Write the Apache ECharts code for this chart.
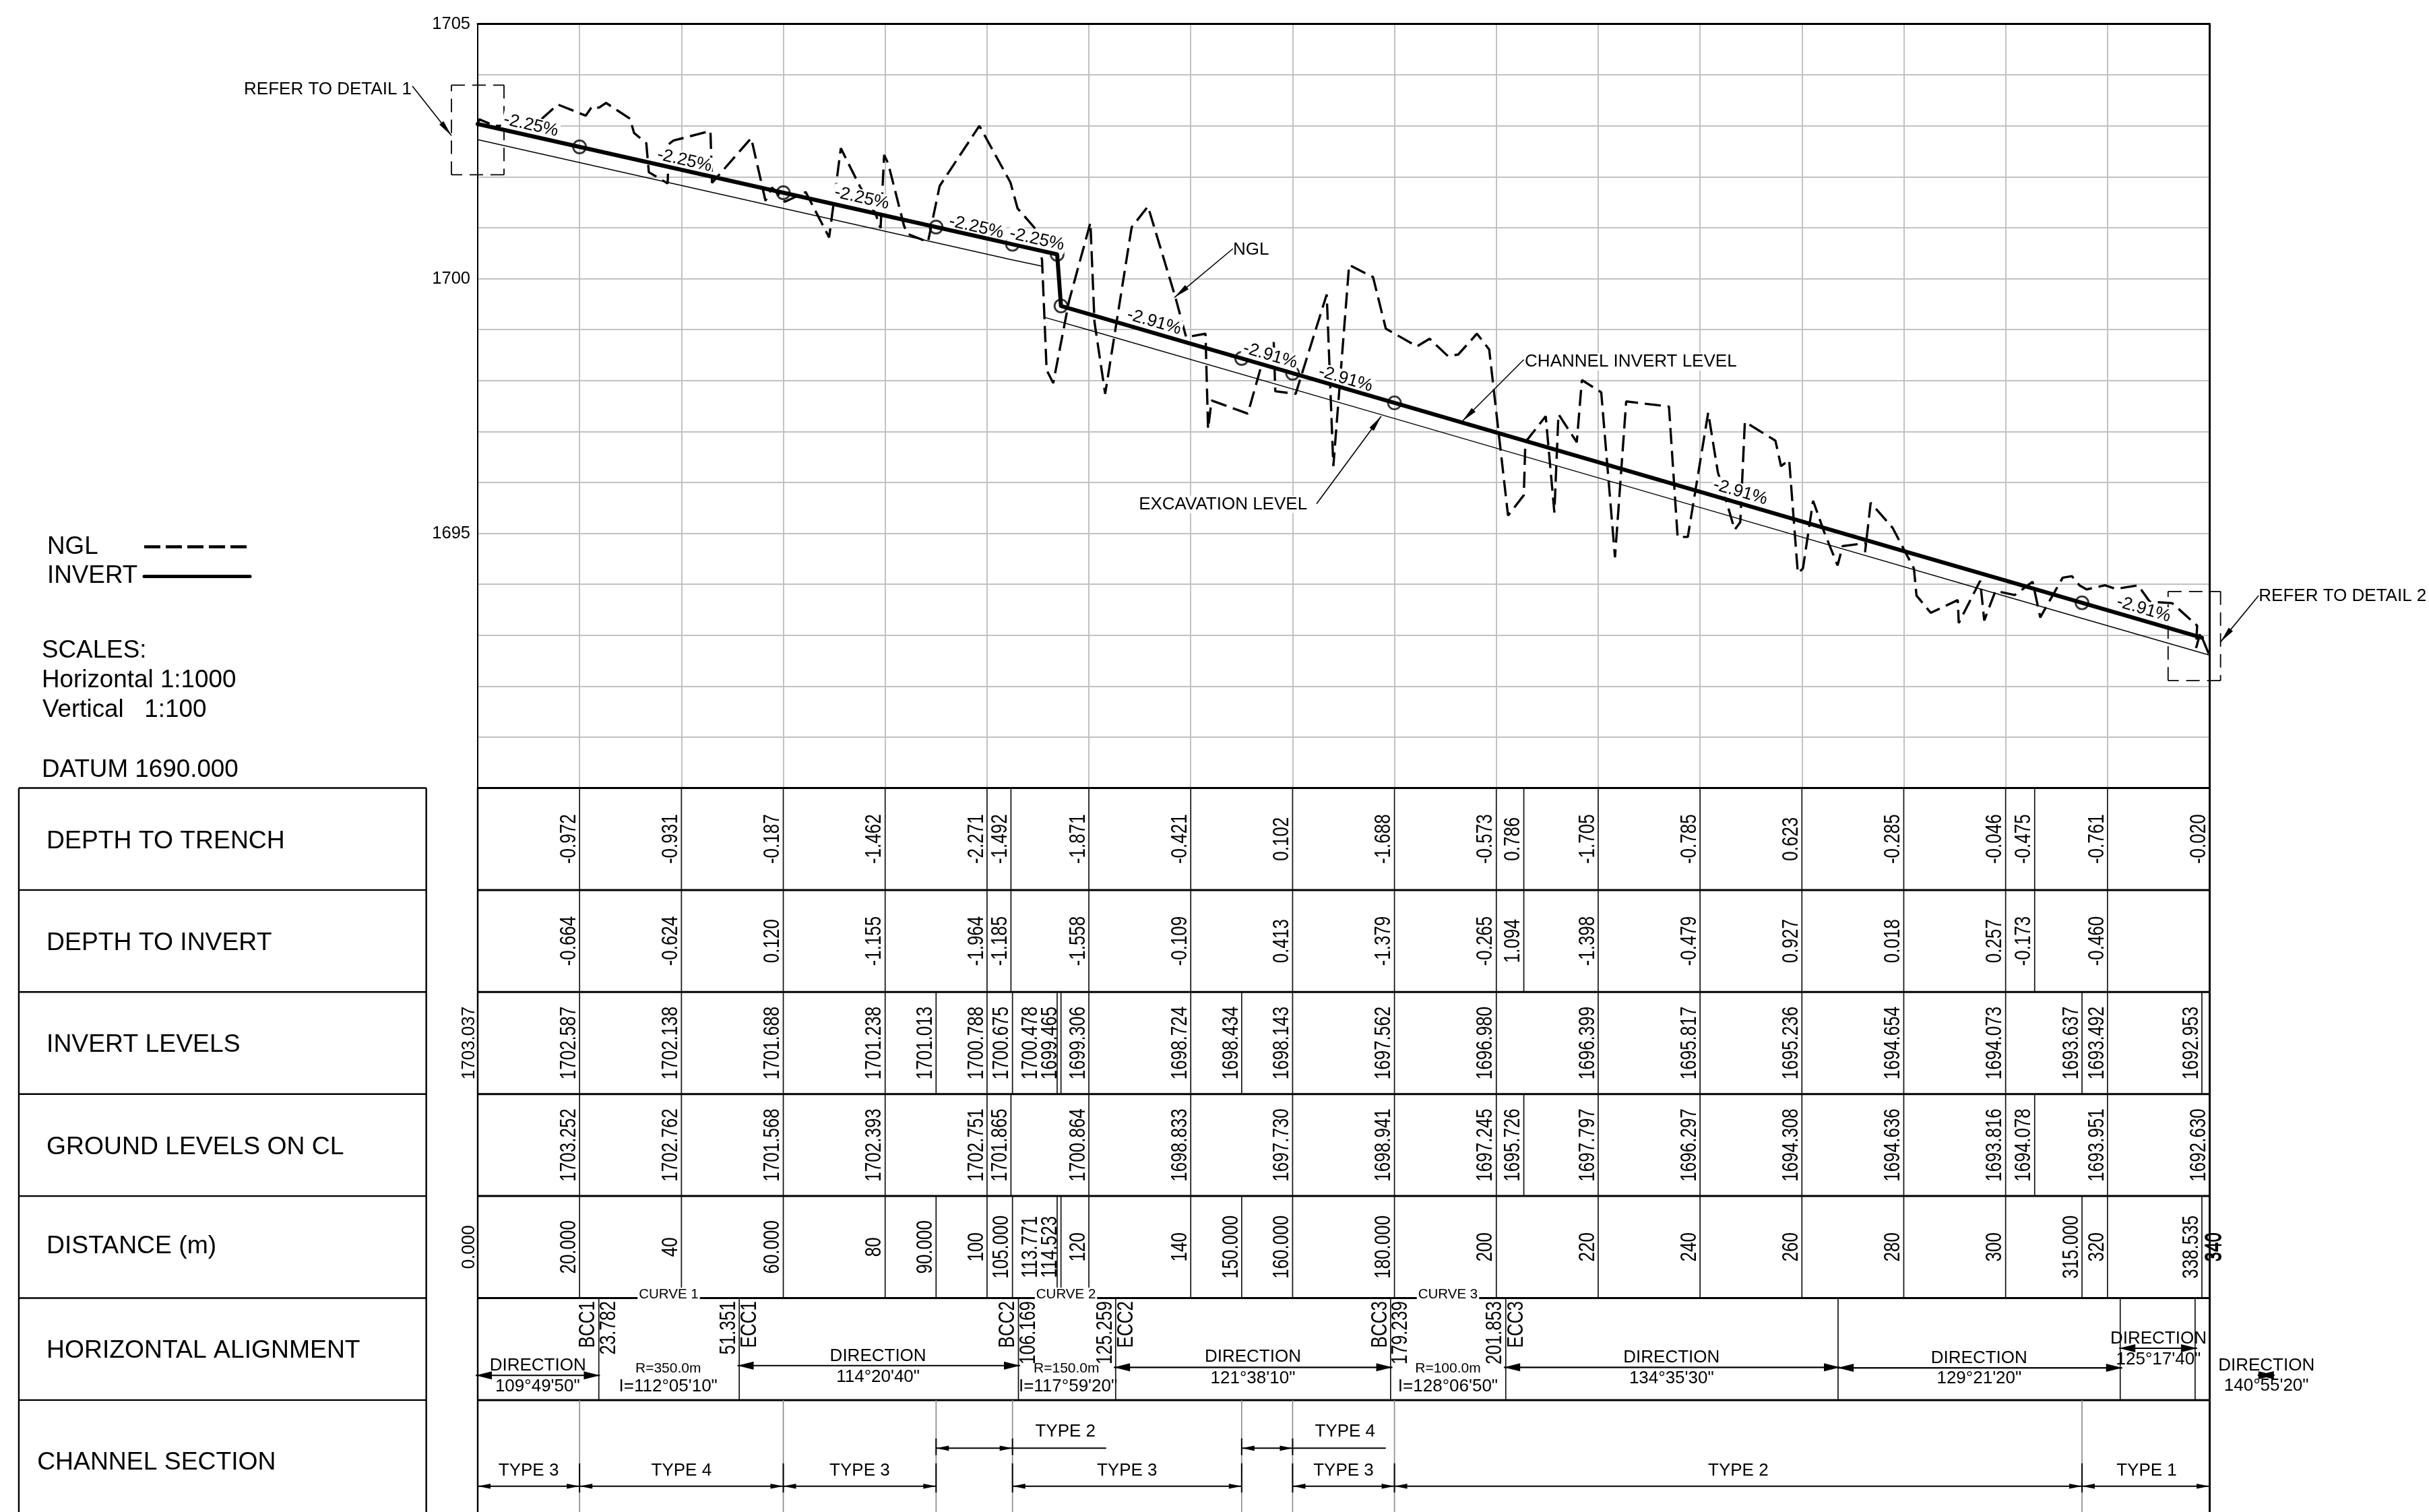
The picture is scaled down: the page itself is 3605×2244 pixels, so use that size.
<!DOCTYPE html>
<html><head><meta charset="utf-8">
<style>html,body{margin:0;padding:0;background:#fff}#c{width:3605px;height:2244px}</style>
<script src="https://cdn.jsdelivr.net/npm/echarts@6/dist/echarts.min.js"></script>
</head><body><div id="c"></div>
<script>
const ngl=[[0,1703.04],[0.3,1703.13],[3.3,1703.0],[4.9,1703.0],[12.6,1703.14],[15.7,1703.42],[21.2,1703.2],[22.5,1703.385],[23.8,1703.355],[25.2,1703.45],[29.9,1703.14],[30.7,1702.86],[33.1,1702.66],[33.6,1702.09],[37.3,1701.87],[37.5,1702.64],[38.4,1702.71],[45.7,1702.9],[46,1701.88],[53.7,1702.76],[56.5,1701.53],[57.8,1701.79],[60.3,1701.51],[64.4,1701.7],[69,1700.81],[71.3,1702.56],[75,1701.82],[78.1,1701.28],[79.1,1700.99],[79.8,1702.43],[80.6,1702.26],[83.7,1701.04],[84.4,1700.88],[88.4,1700.72],[90.7,1701.82],[98.5,1703],[104.6,1701.89],[106,1701.38],[109.5,1700.98],[110.8,1700.37],[111.7,1698.21],[113,1697.95],[116.1,1699.56],[120.3,1701.1],[121.1,1699.15],[123.2,1697.74],[128.4,1701.01],[131.6,1701.42],[137,1699.63],[139.1,1698.85],[142.9,1698.92],[143.4,1697.05],[144.1,1697.61],[151.2,1697.35],[154,1698.34],[156.3,1698.75],[156.6,1697.79],[160.6,1697.74],[166.7,1699.69],[168,1696.32],[171.1,1700.27],[175.8,1700.03],[178.3,1699.02],[184.4,1698.67],[186.9,1698.82],[190.5,1698.48],[192.5,1698.51],[196.2,1698.92],[198.6,1698.61],[202.3,1695.35],[205.4,1695.75],[205.7,1696.79],[209.7,1697.3],[211.4,1695.41],[212.2,1697.34],[215.8,1696.79],[216.8,1698.01],[220.6,1697.77],[223.3,1694.53],[225.5,1697.59],[233.9,1697.49],[235.6,1694.93],[237.6,1694.93],[241.6,1697.37],[243.5,1696.2],[246.8,1695.07],[247.9,1695.22],[248.8,1697.19],[254.8,1696.82],[255.9,1696.32],[257.5,1696.44],[259.2,1694.22],[260.2,1694.31],[262.2,1695.64],[264.4,1695.02],[267,1694.37],[268,1694.75],[272.6,1694.81],[272.4,1694.63],[273.5,1695.6],[277.8,1695.11],[282,1694.31],[282.5,1693.78],[285.3,1693.44],[290.6,1693.69],[290.8,1693.24],[295,1694.07],[295.8,1693.29],[298,1693.87],[301.8,1693.79],[305.3,1694.05],[306.8,1693.35],[311.2,1694.13],[313,1694.16],[314.5,1693.98],[315.9,1693.9],[319.5,1693.98],[321.6,1693.91],[326,1693.98],[328.3,1693.66],[332.7,1693.63],[337.6,1693.19],[337.4,1692.75],[338.2,1693.04],[340,1692.61]];
const invert=[[0,1703.037],[20,1702.587],[40,1702.138],[60,1701.688],[80,1701.238],[90,1701.013],[100,1700.788],[105,1700.675],[113.771,1700.478],[114.523,1699.465],[120,1699.306],[140,1698.724],[150,1698.434],[160,1698.143],[180,1697.562],[200,1696.98],[220,1696.399],[240,1695.817],[260,1695.236],[280,1694.654],[300,1694.073],[315,1693.637],[320,1693.492],[338.535,1692.953]];
const excavationUp=[[0,1702.73],[20,1702.279],[60,1701.381],[105,1700.368],[110.8,1700.246]];
const excavationDown=[[111.5,1699.235],[120,1698.993],[180,1697.254],[240,1695.509],[300,1693.765],[340,1692.61]];
const circleStations=[[20,1702.587],[60,1701.688],[90,1701.013],[105,1700.675],[113.771,1700.478],[114.523,1699.465],[150,1698.434],[160,1698.143],[180,1697.562],[315,1693.637]];
const slopeLabels=[[10.46,1703.01,'-2.25%'],[40.6,1702.32,'-2.25%'],[75.4,1701.58,'-2.25%'],[97.9,1701.01,'-2.25%'],[109.8,1700.77,'-2.25%'],[132.8,1699.15,'-2.91%'],[155.6,1698.49,'-2.91%'],[170.4,1698.03,'-2.91%'],[247.9,1695.81,'-2.91%'],[327.1,1693.51,'-2.91%']];
const yTickLabels=[1695,1700,1705];

const noteTexts=[[-45.9,1703.725,'REFER TO DETAIL 1'],[349.7,1693.78,'REFER TO DETAIL 2'],[148.3,1700.58,'NGL'],[129.8,1695.58,'EXCAVATION LEVEL'],[205.6,1698.38,'CHANNEL INVERT LEVEL']];
const noteLeaders=[[-12.83,1703.78,-5.16,1702.81],[349.7,1693.78,342.2,1692.87],[148.3,1700.59,136.8,1699.63],[164.7,1695.58,177.4,1697.3],[205.4,1698.41,193.3,1697.2]];
const detailBoxes=[[-5.16,1703.8,5.16,1702.04],[331.9,1693.86,342.2,1692.11]];

const rowLabels=[[-84.66,0.514,'DEPTH TO TRENCH'],[-84.66,1.514,'DEPTH TO INVERT'],[-84.66,2.514,'INVERT LEVELS'],[-84.66,3.514,'GROUND LEVELS ON CL'],[-84.66,4.489,'DISTANCE (m)'],[-84.66,5.511,'HORIZONTAL ALIGNMENT'],[-86.5,6.609,'CHANNEL SECTION']];
const sideBreaks=[0,1,2,3,4,5,6];

const depthStops=[20,40,60,80,100,104.7,120,140,160,180,200,205.4,220,240,260,280,300,305.7,320];
const levelStops=[20,40,60,80,90,100,105,113.771,114.523,120,140,150,160,180,200,220,240,260,280,300,315,320,338.535];
const alignStops=[23.782,51.351,106.169,125.259,179.239,201.853,267.1,322.5,337.2];
const sectionStops=[20,60,90,105,150,160,180,315];

const depthToTrench=[[20,'-0.972'],[40,'-0.931'],[60,'-0.187'],[80,'-1.462'],[100,'-2.271'],[104.7,'-1.492'],[120,'-1.871'],[140,'-0.421'],[160,'0.102'],[180,'-1.688'],[200,'-0.573'],[205.4,'0.786'],[220,'-1.705'],[240,'-0.785'],[260,'0.623'],[280,'-0.285'],[300,'-0.046'],[305.7,'-0.475'],[320,'-0.761'],[340,'-0.020']];
const depthToInvert=[[20,'-0.664'],[40,'-0.624'],[60,'0.120'],[80,'-1.155'],[100,'-1.964'],[104.7,'-1.185'],[120,'-1.558'],[140,'-0.109'],[160,'0.413'],[180,'-1.379'],[200,'-0.265'],[205.4,'1.094'],[220,'-1.398'],[240,'-0.479'],[260,'0.927'],[280,'0.018'],[300,'0.257'],[305.7,'-0.173'],[320,'-0.460']];
const invertLevels=[[20,'1702.587'],[40,'1702.138'],[60,'1701.688'],[80,'1701.238'],[90,'1701.013'],[100,'1700.788'],[105,'1700.675'],[110.6,'1700.478'],[114.523,'1699.465'],[120,'1699.306'],[140,'1698.724'],[150,'1698.434'],[160,'1698.143'],[180,'1697.562'],[200,'1696.980'],[220,'1696.399'],[240,'1695.817'],[260,'1695.236'],[280,'1694.654'],[300,'1694.073'],[315,'1693.637'],[320,'1693.492'],[338.535,'1692.953']];
const groundLevels=[[20,'1703.252'],[40,'1702.762'],[60,'1701.568'],[80,'1702.393'],[100,'1702.751'],[104.7,'1701.865'],[120,'1700.864'],[140,'1698.833'],[160,'1697.730'],[180,'1698.941'],[200,'1697.245'],[205.4,'1695.726'],[220,'1697.797'],[240,'1696.297'],[260,'1694.308'],[280,'1694.636'],[300,'1693.816'],[305.7,'1694.078'],[320,'1693.951'],[340,'1692.630']];
const distances=[[20,'20.000'],[40,'40'],[60,'60.000'],[80,'80'],[90,'90.000'],[100,'100'],[105,'105.000'],[110.6,'113.771'],[114.523,'114.523'],[120,'120'],[140,'140'],[150,'150.000'],[160,'160.000'],[180,'180.000'],[200,'200'],[220,'220'],[240,'240'],[260,'260'],[280,'280'],[300,'300'],[315,'315.000'],[320,'320'],[338.535,'338.535'],[343,'340'],[343.2,'340']];
const startInvert=[[0,'1703.037']];
const startDistance=[[0,'0.000']];

const alignMarks=[[23.782,'BCC1'],[27.8,'23.782'],[51.351,'51.351'],[55.5,'ECC1'],[106.169,'BCC2'],[110.25,'106.169'],[125.259,'125.259'],[129.4,'ECC2'],[179.239,'BCC3'],[183.3,'179.239'],[201.853,'201.853'],[206,'ECC3']];
const directionLabels=[[11.8,5.657,'DIRECTION'],[11.75,5.86,'109°49\'50"'],[78.6,5.563,'DIRECTION'],[78.6,5.767,'114°20\'40"'],[152.2,5.573,'DIRECTION'],[152.2,5.783,'121°38\'10"'],[234.4,5.578,'DIRECTION'],[234.4,5.783,'134°35\'30"'],[294.8,5.584,'DIRECTION'],[294.8,5.783,'129°21\'20"'],[330,5.391,'DIRECTION'],[330,5.596,'125°17\'40"'],[351.2,5.657,'DIRECTION'],[351.2,5.853,'140°55\'20"'],[37.4,5.862,'I=112°05\'10"'],[115.9,5.862,'I=117°59\'20"'],[190.5,5.862,'I=128°06\'50"']];
const radiusLabels=[[37.4,5.684,'R=350.0m'],[115.6,5.684,'R=150.0m'],[190.5,5.684,'R=100.0m']];
const directionArrows=[[-0.4,24,5.758],[51,106.5,5.662],[124.9,179.6,5.679],[201.5,267.5,5.679],[267,322.9,5.684],[322.3,337.6,5.492],[349.5,352.8,5.756]];
const curveLabels=[[37.5,4.96,'CURVE 1'],[115.5,4.96,'CURVE 2'],[190.5,4.96,'CURVE 3']];
const sectionLabels=[[10,6.686,'TYPE 3'],[40,6.686,'TYPE 4'],[75,6.686,'TYPE 3'],[127.5,6.686,'TYPE 3'],[170,6.686,'TYPE 3'],[247.5,6.686,'TYPE 2'],[327.7,6.686,'TYPE 1'],[115.4,6.305,'TYPE 2'],[170.3,6.305,'TYPE 4']];
const sectionArrows=[[0,20,6.844],[20,60,6.844],[60,90,6.844],[105,150,6.844],[160,180,6.844],[180,315,6.844],[315,340,6.844],[90,105,6.472],[150,160,6.472]];
const sectionRuns=[[105,123.4,6.472],[160,178.3,6.472]];
const sectionTicksLow=[0,20,60,90,105,150,160,180,315];
const sectionTicksHigh=[90,105,150,160];

const FF='"Liberation Sans", Arial, sans-serif';
const INK='#000';

function base(axis,z){return {type:'custom',coordinateSystem:'cartesian2d',xAxisIndex:axis,yAxisIndex:axis*2,z:z,silent:true,animation:false,clip:false};}
function segSeries(axis,data,style,z){
  return Object.assign(base(axis,z),{data:data,renderItem:function(p,api){
    const a=api.coord([api.value(0),api.value(1)]),b=api.coord([api.value(2),api.value(3)]);
    return {type:'line',shape:{x1:a[0],y1:a[1],x2:b[0],y2:b[1]},style:Object.assign({fill:null},style)};
  }});
}
function txt(text,size,extra){return Object.assign({legacy:false,text:text,fontSize:size,fontFamily:FF,fill:INK},extra);}
function textSeries(axis,rows,size,extra,z){
  return Object.assign(base(axis,z),{data:rows.map(r=>[r[0],r[1]]),renderItem:function(p,api){
    const c=api.coord([api.value(0),api.value(1)]);
    return {type:'text',x:c[0],y:c[1]+1,style:txt(rows[p.dataIndex][2],size,extra)};
  }});
}
function rotSeries(rows,r,opt){
  return Object.assign(base(1,opt.z||6),{data:rows.map(a=>[a[0],r]),renderItem:function(p,api){
    const c=api.coord([api.value(0),api.value(1)]);
    return {type:'text',x:c[0]+1,y:c[1],rotation:Math.PI/2,scaleY:opt.sy||1.25,
      style:txt(rows[p.dataIndex][1],26,{align:opt.align||'center',verticalAlign:'bottom'})};
  }});
}
function head(tip,from,len,hw){
  const dx=from[0]-tip[0],dy=from[1]-tip[1],L=Math.hypot(dx,dy)||1,ux=dx/L,uy=dy/L;
  return {type:'polygon',shape:{points:[tip,[tip[0]+ux*len-uy*hw,tip[1]+uy*len+ux*hw],[tip[0]+ux*len+uy*hw,tip[1]+uy*len-ux*hw]]},style:{fill:INK}};
}
function arrowSeries(data,len,hw,lw,z){
  return Object.assign(base(1,z),{data:data,renderItem:function(p,api){
    const a=api.coord([api.value(0),api.value(2)]),b=api.coord([api.value(1),api.value(2)]);
    return {type:'group',children:[
      {type:'line',shape:{x1:a[0],y1:a[1],x2:b[0],y2:b[1]},style:{stroke:INK,lineWidth:lw}},
      head(a,b,len,hw),head(b,a,len,hw)]};
  }});
}
function stops(list,row){return list.map(d=>[d,row,d,row+1]);}

const boxEdges=[];
detailBoxes.forEach(b=>{boxEdges.push([b[0],b[1],b[2],b[1]],[b[2],b[1],b[2],b[3]],[b[2],b[3],b[0],b[3]],[b[0],b[3],b[0],b[1]]);});
const tableSegments=[].concat(stops(depthStops,0),stops(depthStops,1),stops(levelStops,2),stops(depthStops,3),stops(levelStops,4),stops(alignStops,5));

const series=[
  {name:'EXCAVATION',type:'line',data:excavationUp,symbol:'none',lineStyle:{color:INK,width:1.4},z:3,silent:true,animation:false},
  {name:'EXCAVATION ',type:'line',data:excavationDown,symbol:'none',lineStyle:{color:INK,width:1.4},z:3,silent:true,animation:false},
  {name:'NGL',type:'line',data:ngl,symbol:'none',lineStyle:{color:INK,width:3.4,type:[24,10]},z:3,silent:true,animation:false},
  {name:'Chainage points',type:'scatter',data:circleStations,symbol:'circle',symbolSize:19,itemStyle:{color:'rgba(0,0,0,0)',borderColor:INK,borderWidth:2.8},z:4,silent:true,animation:false},
  segSeries(0,boxEdges,{stroke:INK,lineWidth:1.8,lineDash:[20,11]},4),
  Object.assign(base(0,5),{data:slopeLabels.map(s=>[s[0],s[1]]),renderItem:function(p,api){
    const c=api.coord([api.value(0),api.value(1)]),s=slopeLabels[p.dataIndex][2];
    return {type:'text',x:c[0],y:c[1],rotation:-Math.atan(Math.abs(parseFloat(s))/10),
      style:txt(s,26,{align:'center',verticalAlign:'middle',backgroundColor:'#fff',padding:[0,2]})};
  }}),
  {name:'INVERT',type:'line',data:invert,symbol:'none',lineStyle:{color:INK,width:6,cap:'round',join:'round'},z:6,silent:true,animation:false},
  Object.assign(base(0,7),{data:noteLeaders,renderItem:function(p,api){
    const a=api.coord([api.value(0),api.value(1)]),b=api.coord([api.value(2),api.value(3)]);
    return {type:'group',children:[{type:'line',shape:{x1:a[0],y1:a[1],x2:b[0],y2:b[1]},style:{stroke:INK,lineWidth:1.6}},head(b,a,24,4)]};
  }}),
  textSeries(0,noteTexts,26,{align:'left',verticalAlign:'middle',backgroundColor:'#fff'},7),

  /* table */
  segSeries(1,sideBreaks.map(r=>[0,r,340,r]),{stroke:INK,lineWidth:3},3),
  segSeries(1,sideBreaks.map(r=>[-90.1,r,-10.1,r]),{stroke:INK,lineWidth:2.4},3),
  segSeries(1,[[-90.1,0,-90.1,7.2],[-10.1,0,-10.1,7.2]],{stroke:INK,lineWidth:2.4},3),
  segSeries(1,tableSegments,{stroke:'#111',lineWidth:1.7},4),
  segSeries(1,sectionStops.map(d=>[d,6,d,7.2]),{stroke:'#888',lineWidth:1.6},4),
  segSeries(1,sectionTicksLow.map(d=>[d,6.62,d,6.906]),{stroke:INK,lineWidth:2},5),
  segSeries(1,sectionTicksHigh.map(d=>[d,6.376,d,6.54]),{stroke:INK,lineWidth:2},5),
  textSeries(1,rowLabels,37.3,{align:'left',verticalAlign:'middle'},6),
  rotSeries(depthToTrench,0.5,{}),
  rotSeries(depthToInvert,1.5,{}),
  rotSeries(invertLevels,2.5,{}),
  rotSeries(groundLevels,3.5,{}),
  rotSeries(distances,4.5,{}),
  rotSeries(startInvert,2.5,{sy:1.08}),
  rotSeries(startDistance,4.5,{sy:1.08}),
  Object.assign(base(1,6),{data:alignMarks.map(a=>[a[0],5.03]),renderItem:function(p,api){
    const c=api.coord([api.value(0),api.value(1)]);
    return {type:'text',x:c[0]+1,y:c[1],rotation:Math.PI/2,scaleY:1.25,style:txt(alignMarks[p.dataIndex][1],26,{align:'right',verticalAlign:'bottom'})};
  }}),
  textSeries(1,directionLabels,26,{align:'center',verticalAlign:'middle'},6),
  textSeries(1,radiusLabels,21,{align:'center',verticalAlign:'middle'},6),
  textSeries(1,curveLabels,20.5,{align:'center',verticalAlign:'middle',backgroundColor:'#fff',padding:[0,2]},7),
  arrowSeries(directionArrows,24,6,2.2,5),
  arrowSeries(sectionArrows,19,3.8,2,5),
  segSeries(1,sectionRuns.map(s=>[s[0],s[2],s[1],s[2]]),{stroke:INK,lineWidth:2},5),
  textSeries(1,sectionLabels,26,{align:'center',verticalAlign:'middle'},6)
];

function gtext(x,y,t){return {type:'text',x:x,y:y+2,silent:true,style:{text:t,font:'36.8px '+FF,fill:INK,textVerticalAlign:'middle',verticalAlign:'middle'}};}
const option={
  backgroundColor:'#fff',animation:false,
  grid:[{left:709,top:35.6,width:2570,height:1134},{left:709,top:1169.5,width:2570,height:1074.5}],
  xAxis:[
    {type:'value',gridIndex:0,position:'top',min:0,max:340,interval:20,axisLine:{show:true,lineStyle:{color:INK,width:3}},axisTick:{show:false},axisLabel:{show:false},splitLine:{show:true,lineStyle:{color:'#c2c2c2',width:2}}},
    {type:'value',gridIndex:1,min:0,max:340,show:false,splitLine:{show:false}}
  ],
  yAxis:[
    {type:'value',gridIndex:0,min:1690,max:1705,interval:1,axisLine:{show:true,onZero:false,lineStyle:{color:INK,width:2}},axisTick:{show:false},
     axisLabel:{margin:11,fontSize:25.5,fontFamily:FF,color:INK,padding:[3,0,0,0],formatter:v=>yTickLabels.includes(v)?String(v):''},splitLine:{show:true,lineStyle:{color:'#c2c2c2',width:2}}},
    {type:'value',gridIndex:0,position:'right',min:1690,max:1705,interval:5,axisLine:{show:true,onZero:false,lineStyle:{color:INK,width:3}},axisTick:{show:false},axisLabel:{show:false},splitLine:{show:false}},
    {type:'value',gridIndex:1,inverse:true,min:0,max:7.097,interval:1,axisLine:{show:true,onZero:false,lineStyle:{color:INK,width:2.4}},axisTick:{show:false},axisLabel:{show:false},splitLine:{show:false}},
    {type:'value',gridIndex:1,inverse:true,position:'right',min:0,max:7.097,interval:1,axisLine:{show:true,onZero:false,lineStyle:{color:INK,width:3}},axisTick:{show:false},axisLabel:{show:false},splitLine:{show:false}}
  ],
  graphic:[
    gtext(70,810,'NGL'),gtext(70,853,'INVERT'),gtext(62,964,'SCALES:'),gtext(62,1008,'Horizontal 1:1000'),gtext(63,1052,'Vertical   1:100'),gtext(62,1141,'DATUM 1690.000'),
    {type:'line',silent:true,shape:{x1:214,y1:811.5,x2:371,y2:811.5},style:{stroke:INK,lineWidth:4.5,lineDash:[24,8]}},
    {type:'line',silent:true,shape:{x1:214,y1:855.5,x2:371,y2:855.5},style:{stroke:INK,lineWidth:5,lineCap:'round'}}
  ],
  series:series
};
const chart=echarts.init(document.getElementById('c'),null,{renderer:'canvas'});
chart.setOption(option);
</script></body></html>
